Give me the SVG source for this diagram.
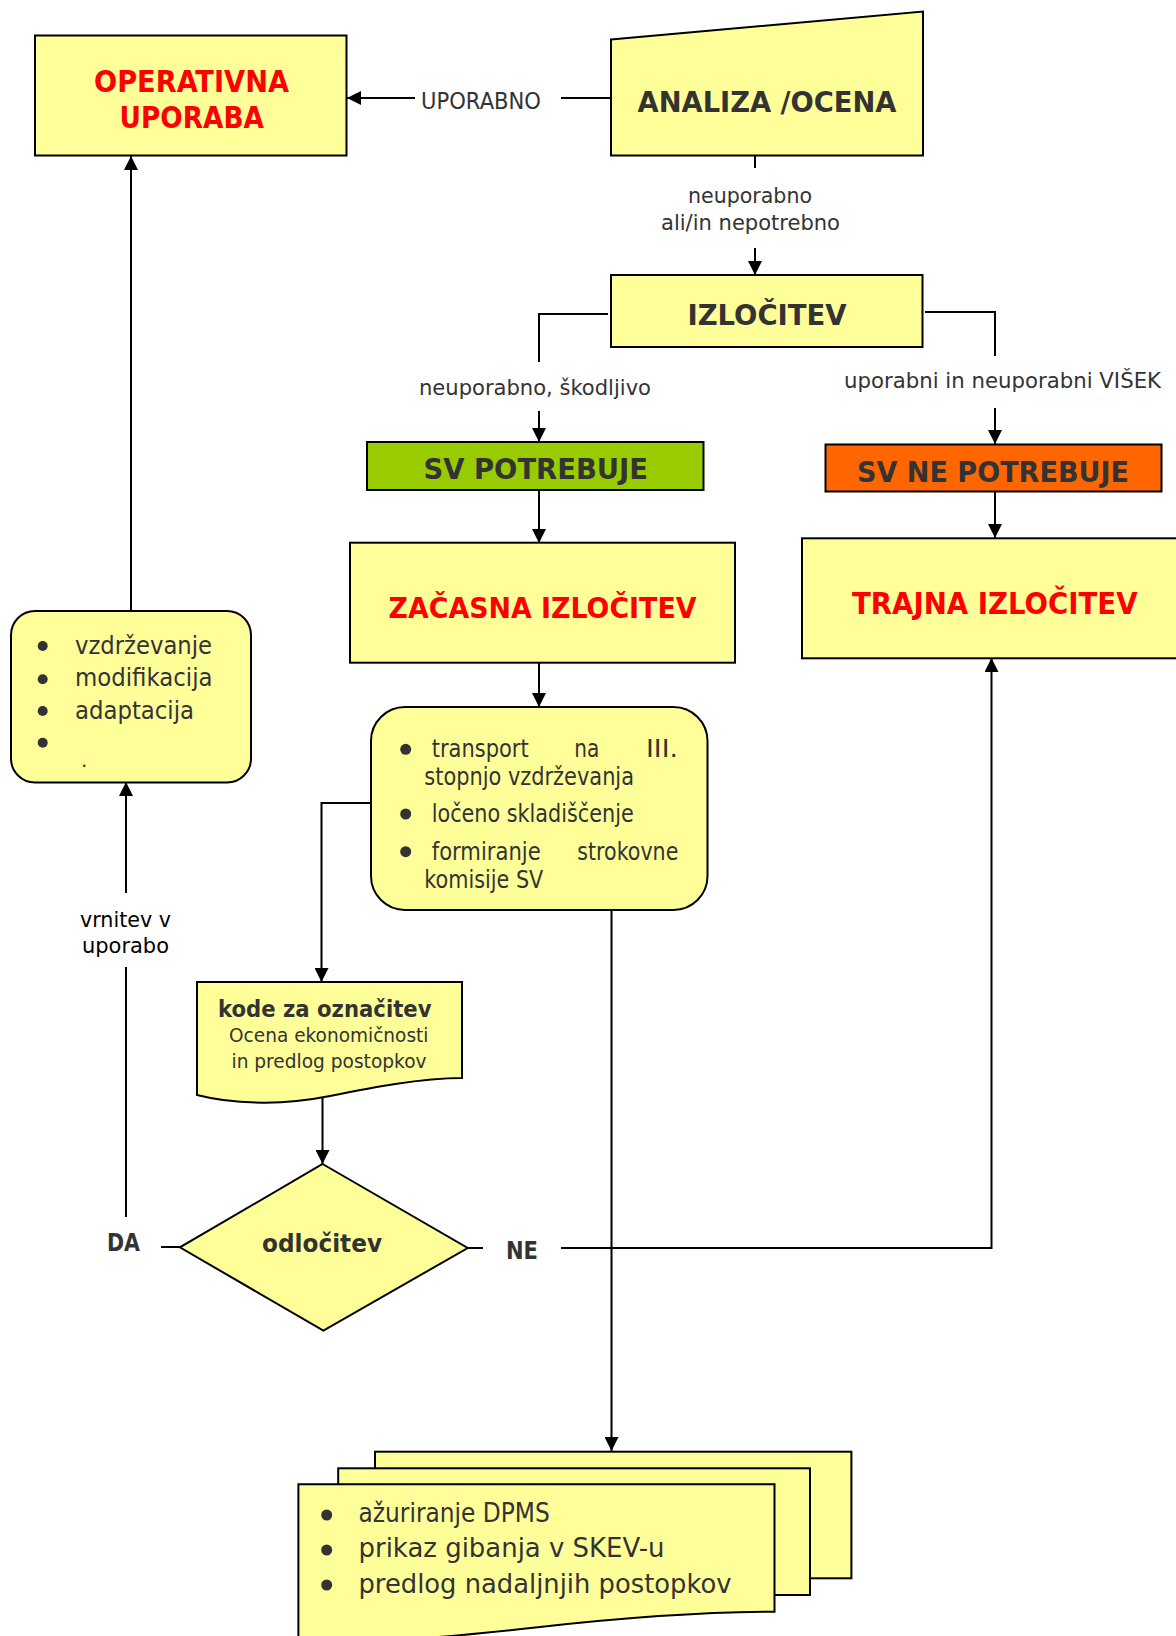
<svg xmlns="http://www.w3.org/2000/svg" width="1176" height="1636" viewBox="0 0 1176 1636">
<defs>
<style>
.box{fill:#FFFF99;stroke:#000;stroke-width:2}
.ln{fill:none;stroke:#000;stroke-width:2}
.t{font-family:"DejaVu Sans",Verdana,sans-serif;fill:#333}
.b{font-family:"DejaVu Sans Condensed","DejaVu Sans",Verdana,sans-serif;font-weight:bold}
.red{fill:#FF0000}
.dk{fill:#333}
.blk{fill:#000}
.dot{fill:#333}
</style>
<marker id="ah" markerWidth="14" markerHeight="14" refX="14" refY="7" orient="auto" markerUnits="userSpaceOnUse"><path d="M0,0 L14,7 L0,14 z" fill="#000"/></marker>
</defs>
<rect width="1176" height="1636" fill="#fff"/>

<g id="connectors">
<line class="ln" x1="611" y1="98" x2="561" y2="98"/>
<line class="ln" x1="415" y1="98" x2="347" y2="98" marker-end="url(#ah)"/>
<line class="ln" x1="755" y1="156" x2="755" y2="168"/>
<line class="ln" x1="755" y1="248" x2="755" y2="275" marker-end="url(#ah)"/>
<polyline class="ln" points="608,314 539,314 539,362"/>
<line class="ln" x1="539" y1="411" x2="539" y2="442" marker-end="url(#ah)"/>
<polyline class="ln" points="925,312 995,312 995,356"/>
<line class="ln" x1="995" y1="408" x2="995" y2="444" marker-end="url(#ah)"/>
<line class="ln" x1="539" y1="490" x2="539" y2="543" marker-end="url(#ah)"/>
<line class="ln" x1="995" y1="491" x2="995" y2="538" marker-end="url(#ah)"/>
<line class="ln" x1="539" y1="663" x2="539" y2="707" marker-end="url(#ah)"/>
<polyline class="ln" points="371,803 321.5,803 321.5,982" marker-end="url(#ah)"/>
<line class="ln" x1="322.5" y1="1098" x2="322.5" y2="1164" marker-end="url(#ah)"/>
<line class="ln" x1="161" y1="1247" x2="180" y2="1247"/>
<line class="ln" x1="126" y1="1217" x2="126" y2="967"/>
<line class="ln" x1="126" y1="893" x2="126" y2="782" marker-end="url(#ah)"/>
<line class="ln" x1="131" y1="611" x2="131" y2="156" marker-end="url(#ah)"/>
<line class="ln" x1="468" y1="1248" x2="483" y2="1248"/>
<polyline class="ln" points="561,1248 991.5,1248 991.5,658" marker-end="url(#ah)"/>
<line class="ln" x1="611.5" y1="910" x2="611.5" y2="1451" marker-end="url(#ah)"/>
</g>

<g id="labels">
<text class="t" x="421" y="109" font-size="23" textLength="120" lengthAdjust="spacingAndGlyphs">UPORABNO</text>
<text class="t" x="688" y="203" font-size="21" textLength="124" lengthAdjust="spacingAndGlyphs">neuporabno</text>
<text class="t" x="661" y="230" font-size="21" textLength="179" lengthAdjust="spacingAndGlyphs">ali/in nepotrebno</text>
<text class="t" x="419" y="395" font-size="21" textLength="232" lengthAdjust="spacingAndGlyphs">neuporabno, škodljivo</text>
<text class="t" x="844" y="388" font-size="21" textLength="317" lengthAdjust="spacingAndGlyphs">uporabni in neuporabni VIŠEK</text>
<text class="t blk" x="80" y="927" font-size="21" textLength="91" lengthAdjust="spacingAndGlyphs">vrnitev v</text>
<text class="t blk" x="82" y="953" font-size="21" textLength="87" lengthAdjust="spacingAndGlyphs">uporabo</text>
<text class="b dk" x="107" y="1251" font-size="24" textLength="33" lengthAdjust="spacingAndGlyphs">DA</text>
<text class="b dk" x="506" y="1259" font-size="24" textLength="32" lengthAdjust="spacingAndGlyphs">NE</text>
</g>

<g id="operativna">
<rect class="box" x="35" y="35.5" width="311.5" height="120"/>
<text class="b red" x="94" y="92" font-size="30" textLength="195" lengthAdjust="spacingAndGlyphs">OPERATIVNA</text>
<text class="b red" x="119.5" y="128" font-size="30" textLength="144.5" lengthAdjust="spacingAndGlyphs">UPORABA</text>
</g>

<g id="analiza">
<polygon class="box" points="611,39.5 923,11.5 923,155.5 611,155.5"/>
<text class="b dk" x="637.5" y="111.5" font-size="29" textLength="259" lengthAdjust="spacingAndGlyphs">ANALIZA /OCENA</text>
</g>

<g id="izlocitev">
<rect class="box" x="611" y="275" width="311.5" height="72"/>
<text class="b dk" x="687.5" y="325" font-size="29" textLength="159" lengthAdjust="spacingAndGlyphs">IZLOČITEV</text>
</g>

<g id="sv-potrebuje">
<rect x="367" y="442" width="336.5" height="48" fill="#99CC00" stroke="#000" stroke-width="2"/>
<text class="b dk" x="423.5" y="478.5" font-size="27.5" textLength="224.5" lengthAdjust="spacingAndGlyphs">SV POTREBUJE</text>
</g>

<g id="sv-ne-potrebuje">
<rect x="825.5" y="444.5" width="336" height="47" fill="#FF6600" stroke="#000" stroke-width="2"/>
<text class="b dk" x="857" y="482" font-size="27.5" textLength="272" lengthAdjust="spacingAndGlyphs">SV NE POTREBUJE</text>
</g>

<g id="zacasna">
<rect class="box" x="350" y="542.7" width="385" height="120"/>
<text class="b red" x="388.5" y="617.5" font-size="29" textLength="308" lengthAdjust="spacingAndGlyphs">ZAČASNA IZLOČITEV</text>
</g>

<g id="trajna">
<rect class="box" x="802" y="538.3" width="384" height="120"/>
<text class="b red" x="852" y="613.5" font-size="29.5" textLength="285.5" lengthAdjust="spacingAndGlyphs">TRAJNA IZLOČITEV</text>
</g>

<g id="vzdrzevanje">
<rect class="box" x="11" y="611" width="240" height="171.5" rx="24" ry="24"/>
<circle class="dot" cx="42.7" cy="646" r="5"/>
<circle class="dot" cx="42.7" cy="679.3" r="5"/>
<circle class="dot" cx="42.7" cy="711" r="5"/>
<circle class="dot" cx="42.7" cy="742.7" r="5"/>
<text class="t" x="75" y="653.5" font-size="24" textLength="137" lengthAdjust="spacingAndGlyphs">vzdrževanje</text>
<text class="t" x="75" y="686" font-size="24" textLength="137.5" lengthAdjust="spacingAndGlyphs">modifikacija</text>
<text class="t" x="75" y="718.5" font-size="24" textLength="119" lengthAdjust="spacingAndGlyphs">adaptacija</text>
<text class="t" x="81" y="767" font-size="20">.</text>
</g>

<g id="transport">
<rect class="box" x="371" y="707" width="336.5" height="203" rx="34" ry="34"/>
<circle class="dot" cx="405.7" cy="749.3" r="5.5"/>
<circle class="dot" cx="405.7" cy="814" r="5.5"/>
<circle class="dot" cx="405.7" cy="851.7" r="5.5"/>
<text class="t" x="431.7" y="757.3" font-size="24" textLength="97" lengthAdjust="spacingAndGlyphs">transport</text>
<text class="t" x="574.3" y="757.3" font-size="24" textLength="25" lengthAdjust="spacingAndGlyphs">na</text>
<text class="t" x="646" y="757.3" font-size="24" textLength="32" lengthAdjust="spacingAndGlyphs">III.</text>
<text class="t" x="424.3" y="785" font-size="24" textLength="209.7" lengthAdjust="spacingAndGlyphs">stopnjo vzdrževanja</text>
<text class="t" x="431.7" y="821.7" font-size="24" textLength="202" lengthAdjust="spacingAndGlyphs">ločeno skladiščenje</text>
<text class="t" x="431.7" y="860" font-size="24" textLength="109" lengthAdjust="spacingAndGlyphs">formiranje</text>
<text class="t" x="577.3" y="860" font-size="24" textLength="101" lengthAdjust="spacingAndGlyphs">strokovne</text>
<text class="t" x="424.3" y="887.7" font-size="24" textLength="119" lengthAdjust="spacingAndGlyphs">komisije SV</text>
</g>

<g id="kode">
<path class="box" d="M197,982 H462 V1078 C 420,1078 370,1088 330,1096 C 290,1104 240,1106 197,1095 Z"/>
<text class="b dk" x="218" y="1016.7" font-size="23" textLength="213.5" lengthAdjust="spacingAndGlyphs">kode za označitev</text>
<text class="t" x="229" y="1041.7" font-size="20" textLength="199.5" lengthAdjust="spacingAndGlyphs">Ocena ekonomičnosti</text>
<text class="t" x="231.5" y="1068.3" font-size="20" textLength="195" lengthAdjust="spacingAndGlyphs">in predlog postopkov</text>
</g>

<g id="odlocitev">
<polygon class="box" points="322.6,1164 467.7,1248 323.4,1330.7 179.9,1247.3"/>
<text class="b dk" x="262" y="1252.3" font-size="25" textLength="120" lengthAdjust="spacingAndGlyphs">odločitev</text>
</g>

<g id="dokumenti">
<rect class="box" x="375" y="1451.7" width="476.4" height="126.6"/>
<rect class="box" x="338.2" y="1468.3" width="471.8" height="126.7"/>
<path class="box" d="M298.4,1484.3 H774.5 V1611.7 C 700,1612 620,1618 540,1627 C 460,1636 380,1644 298.4,1640 Z"/>
<circle class="dot" cx="326.7" cy="1515" r="5.5"/>
<circle class="dot" cx="326.7" cy="1550" r="5.5"/>
<circle class="dot" cx="326.7" cy="1585" r="5.5"/>
<text class="t" x="358.5" y="1521.7" font-size="26" textLength="191.3" lengthAdjust="spacingAndGlyphs">ažuriranje DPMS</text>
<text class="t" x="358.5" y="1556.7" font-size="26" textLength="306" lengthAdjust="spacingAndGlyphs">prikaz gibanja v SKEV-u</text>
<text class="t" x="358.5" y="1593.3" font-size="26" textLength="373" lengthAdjust="spacingAndGlyphs">predlog nadaljnjih postopkov</text>
</g>
</svg>
